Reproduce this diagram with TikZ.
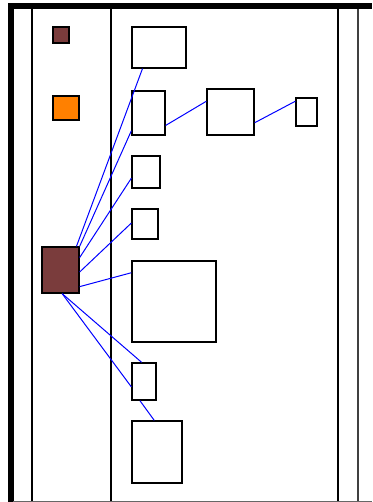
\documentclass[tikz,border=0pt]{standalone}
\usepackage{tikz}
\usepackage{color}
\definecolor{maroon}{RGB}{122,60,60}
\definecolor{orng}{RGB}{255,128,0}

\begin{document}
\begin{tikzpicture}[x=1pt, y=-1pt,
    box/.style={draw, line width=1.3pt, fill=white, inner sep=0pt},
    lnk/.style={blue, line width=1pt}]
            \useasboundingbox (0,0) rectangle (372,502);
            % frame
            \draw[line width=6pt, line join=miter] (10.5,502) -- (10.5,6) -- (372,6);
            \draw[line width=1.3pt] (32,9) -- (32,502);
            \draw[line width=1.3pt] (111,9) -- (111,502);
            \draw[line width=1.3pt] (338,9) -- (338,502);
            \draw[line width=1.2pt, black!75] (358,9) -- (358,502);
            \draw[line width=0.8pt, black!60] (13,501.5) -- (372,501.5);
            % left column
            \node[box, fill=maroon, minimum width=16pt, minimum height=16pt] (small) at (61,35) {};
            \node[box, fill=orng, minimum width=26pt, minimum height=24pt] (orange) at (66,108) {};
            \node[box, fill=maroon, minimum width=37pt, minimum height=46pt] (big) at (60.5,270) {};
            % right column
            \node[box, minimum width=54pt, minimum height=41pt] (b1) at (159,47.5) {};
            \node[box, minimum width=33pt, minimum height=44pt] (b2) at (148.5,113) {};
            \node[box, minimum width=28pt, minimum height=32pt] (b3) at (146,172) {};
            \node[box, minimum width=26pt, minimum height=30pt] (b4) at (145,224) {};
            \node[box, minimum width=84pt, minimum height=81pt] (b5) at (174,301.5) {};
            \node[box, minimum width=24pt, minimum height=37pt] (b6) at (144,381.5) {};
            \node[box, minimum width=50pt, minimum height=62pt] (b7) at (157,452) {};
            \node[box, minimum width=47pt, minimum height=46pt] (b8) at (230.5,112) {};
            \node[box, minimum width=21pt, minimum height=28pt] (b9) at (306.5,112) {};
            % links
            \draw[lnk] (big.56) -- (b1.232);
            \draw[lnk] (big.north east) -- (b2.226);
            \draw[lnk] (big.33) -- (b3.203);
            \draw[lnk] (big.354) -- (b4.176);
            \draw[lnk] (big.319) -- (b5.146);
            \draw[lnk] (big.274) -- (b6.97);
            \draw[lnk] (big.274) -- (b6.203);
            \draw[lnk] (b6.258) -- (b7.95);
            \draw[lnk] (b2.324) -- (b8.156);
            \draw[lnk] (b8.336) -- (b9.136);
        \end{tikzpicture}
\end{document}
